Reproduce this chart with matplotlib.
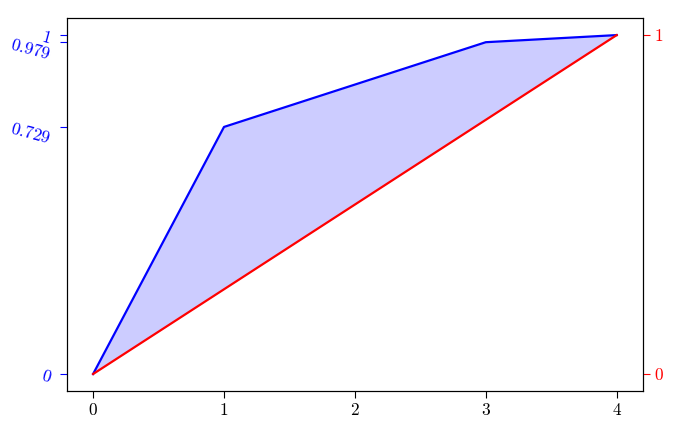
import matplotlib
matplotlib.use('Agg')
import matplotlib.pyplot as plt
import numpy as np

plt.rcParams['font.family'] = 'serif'
plt.rcParams['font.serif'] = ['cmr10', 'DejaVu Serif']
plt.rcParams['mathtext.fontset'] = 'cm'
plt.rcParams['axes.unicode_minus'] = False

# data
x = [0, 1, 3, 4]
y_blue = [0, 0.729, 0.979, 1]
x_red = [0, 4]
y_red = [0, 1]
left_ticks = [0, 0.729, 0.979, 1]
left_labels = ['0', '0.729', '0.979', '1']
right_ticks = [0, 1]

fig = plt.figure(figsize=(6.76, 4.32), dpi=100)
ax = fig.add_axes([0.099, 0.095, 0.852, 0.863])
ax.plot(x, y_blue, color='blue', lw=1.6)
ax.fill_between(x, y_blue, np.interp(x, x_red, y_red), color='blue', alpha=0.2, lw=0)
ax.set_yticks(left_ticks)
ax.set_yticklabels([r'$\mathit{' + s + '}$' for s in left_labels], rotation=-15)
ax.tick_params(axis='y', colors='blue', labelsize=12.5, length=5, pad=5)
ax.set_xticks([0, 1, 2, 3, 4])
ax.tick_params(axis='x', labelsize=12.5, length=5)

ax2 = ax.twinx()
ax2.plot(x_red, y_red, color='red', lw=1.6)
ax2.set_ylim(ax.get_ylim())
ax2.set_yticks(right_ticks)
ax2.tick_params(axis='y', colors='red', labelsize=12.5, length=5)

fig.savefig('out.png', dpi=100)
